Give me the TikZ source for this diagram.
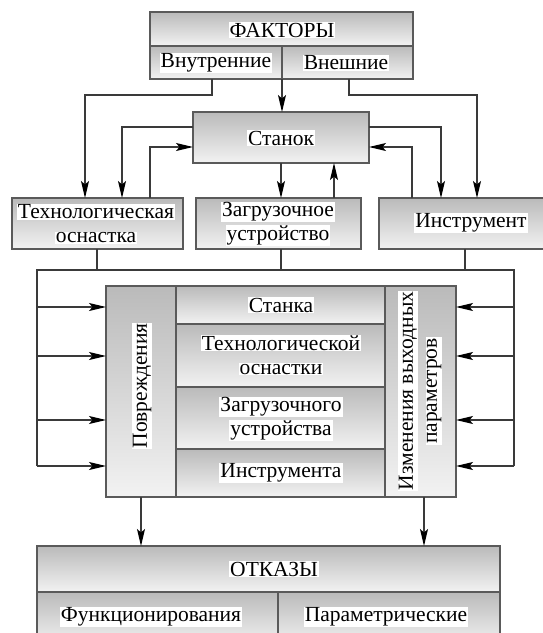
\documentclass[tikz,border=0pt]{standalone}
\usepackage{fontspec}
\setmainfont{Liberation Serif}
\newfontfamily\tnrfont{Liberation Serif}
\usetikzlibrary{arrows.meta}
\definecolor{lc}{HTML}{5A5A5A}
\definecolor{wc}{HTML}{3A3A3A}
\newcommand\cbox[5]{\pgfmathsetmacro\cbW{#4-#2}\pgfmathsetmacro\cbH{#5-#3}%
  \node[cell, minimum width=\cbW pt, minimum height=\cbH pt] (#1) at (#2,#3) {};}
\newcommand\wb[1]{{\setlength\fboxsep{1pt}\colorbox{white}{#1}}}
\begin{document}
\begin{tikzpicture}[x=1pt,y=-1pt,
  cell/.style={draw=lc, line width=1.1pt, top color=black!27, bottom color=black!5,
    inner sep=0pt, outer sep=0pt, anchor=north west},
  lbl/.style={inner sep=0pt, font=\tnrfont\fontsize{21.5}{24}\selectfont, align=center},
  wire/.style={draw=wc, line width=1.1pt},
  arr/.style={wire, -{Stealth[length=17pt, width=8pt, inset=3.5pt, color=black]}}]
\useasboundingbox (0,0) rectangle (542,633);
% boxes
\cbox{fak}{150}{12}{413}{46}
\cbox{fakin}{150}{46}{282}{79}
\cbox{fakout}{282}{46}{413}{79}
\cbox{stanok}{193}{112}{369}{163}
\cbox{tech}{12}{198}{183}{249}
\cbox{zag}{196}{198}{361}{249}
\cbox{instr}{379}{198}{548}{249}
\cbox{pov}{106}{286}{176}{497}
\cbox{izm}{385}{286}{456}{497}
\cbox{m1}{176}{286}{385}{324}
\cbox{m2}{176}{324}{385}{387}
\cbox{m3}{176}{387}{385}{449}
\cbox{m4}{176}{449}{385}{497}
\cbox{otk}{37}{546}{500}{592}
\cbox{otkf}{37}{592}{278}{645}
\cbox{otkp}{278}{592}{500}{645}
% labels
\node[lbl] (tfak) at (282,30) {\wb{ФАКТОРЫ}};
\node[lbl] (tin) at (216,63) {\wb{Внутренние}};
\node[lbl] (tout) at (346,63) {\wb{Внешние}};
\node[lbl] (tst) at (281,138) {\wb{Станок}};
\node[lbl] (ttech) at (96,224) {\wb{Технологическая}\\\wb{оснастка}};
\node[lbl] (tzag) at (278,224) {\wb{Загрузочное}\\\wb{устройство}};
\node[lbl] (tinstr) at (471,223) {\wb{Инструмент}};
\node[lbl] (tm1) at (281,305) {\wb{Станка}};
\node[lbl] (tm2) at (281,355) {\wb{Технологической}\\\wb{оснастки}};
\node[lbl] (tm3) at (281,419) {\wb{Загрузочного}\\\wb{устройства}};
\node[lbl] (tm4) at (281,473) {\wb{Инструмента}};
\node[lbl, rotate=90] (tpov) at (142,386) {\wb{Повреждения}};
\node[lbl, rotate=90] (tizm) at (420,391) {\wb{Изменения выходных}\\\wb{параметров}};
\node[lbl] (totk) at (274,569) {\wb{ОТКАЗЫ}};
\node[lbl] (tf) at (151,617) {\wb{Функционирования}};
\node[lbl] (tp) at (386,617) {\wb{Параметрические}};
% top connectors
\draw[arr] ([xshift=62pt]fakin.south west) -- ++(0,16) -| ([xshift=73pt]tech.north west);
\draw[arr] ([xshift=67pt]fakout.south west) -- ++(0,16) -| ([xshift=98pt]instr.north west);
\draw[arr] (fakin.south east) -- (fakin.south east |- stanok.north);
\draw[arr] ([yshift=-15pt]stanok.north west) -| ([xshift=110pt]tech.north west);
\draw[arr] ([xshift=138pt]tech.north west) |- ([yshift=-35pt]stanok.north west);
\draw[arr] ([yshift=-15pt]stanok.north east) -| ([xshift=62pt]instr.north west);
\draw[arr] ([xshift=33pt]instr.north west) |- ([yshift=-35pt]stanok.north east);
\draw[arr] (stanok.south) -- (stanok.south |- zag.north);
\draw[arr] ([xshift=138pt]zag.north west) -- ([xshift=138pt]zag.north west |- stanok.south);
% bus
\coordinate (busL) at (37,270);
\coordinate (busR) at (514,270);
\coordinate (L1) at (37,307); \coordinate (L2) at (37,356);
\coordinate (L3) at (37,420); \coordinate (L4) at (37,466);
\coordinate (R1) at (514,307); \coordinate (R2) at (514,356);
\coordinate (R3) at (514,420); \coordinate (R4) at (514,466);
\draw[wire] ([xshift=85pt]tech.south west) -- ([xshift=85pt]tech.south west |- busL);
\draw[wire] (zag.south -| stanok.south) -- (stanok.south |- busL);
\draw[wire] ([xshift=86pt]instr.south west) -- ([xshift=86pt]instr.south west |- busR);
\draw[wire] (L4) -- (busL) -- (busR) -- (R4);
\foreach \k in {1,2,3,4}{
  \draw[arr] (L\k) -- (L\k -| pov.west);
  \draw[arr] (R\k) -- (R\k -| izm.east);
}
% bottom arrows
\draw[arr] (pov.south) -- (pov.south |- otk.north);
\draw[arr] ([xshift=3.5pt]izm.south) -- ([xshift=3.5pt]izm.south |- otk.north);
\end{tikzpicture}
\end{document}
